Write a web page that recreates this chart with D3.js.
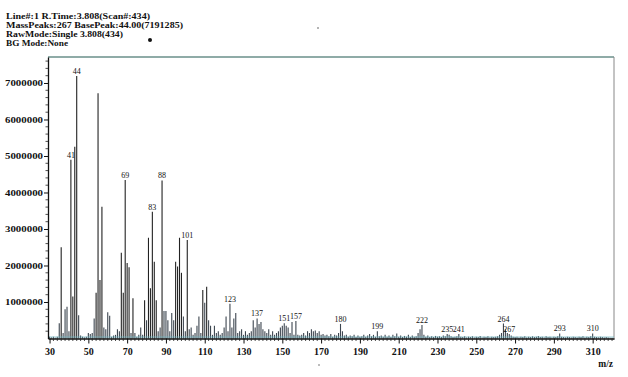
<!DOCTYPE html>
<html><head><meta charset="utf-8">
<script src="https://cdn.jsdelivr.net/npm/d3@7"></script>
<style>
html,body{margin:0;padding:0;background:#fff;}
svg{display:block;}
text{font-family:"Liberation Serif","DejaVu Serif",serif;fill:#111;}
</style></head><body>
<svg id="c" width="628" height="377"></svg>
<script>
// Header lines
const headerLines = [
  "Line#:1  R.Time:3.808(Scan#:434)",
  "MassPeaks:267  BasePeak:44.00(7191285)",
  "RawMode:Single 3.808(434)",
  "BG Mode:None"
];
// m/z tick labels
const xTickValues = [30,50,70,90,110,130,150,170,190,210,230,250,270,290,310];
// intensity tick labels
const yTickValues = [1000000,2000000,3000000,4000000,5000000,6000000,7000000];
// labelled peaks (m/z)
const labelledPeaks = [41,44,69,83,88,101,123,137,151,157,180,199,222,235,241,264,267,293,310];
// peaks: [m/z, intensity in millions]
const lowMassPeaks = [
 [30,0.05],[31,0.03],[32,0.05],[33,0.02],[34,0.05],[35,0.42],[36,2.5],[37,0.15],[38,0.8],[39,0.87],
 [40,0.2],[41,4.9],[42,1.15],[43,5.25],[44,7.191285],[45,0.64],[46,0.08],[47,0.05],[48,0.03],[49,0.05],
 [50,0.15],[51,0.12],[52,0.15],[53,0.55],[54,1.25],[55,6.72],[56,1.6],[57,3.61],[58,0.3],[59,0.25],
 [60,0.72],[61,0.62],[62,0.05],[63,0.08],[64,0.1],[65,0.25],[66,0.2],[67,2.35],[68,1.25],[69,4.34],
 [70,2.07],[71,1.95],[72,0.15],[73,1.1],[74,0.15],[75,0.05],[76,0.1],[77,0.3],[78,0.1],[79,1.05],
 [80,0.5],[81,2.76],[82,1.38],[83,3.47],[84,2.1],[85,1.05],[86,0.2],[87,0.3],[88,4.33],[89,0.75],
 [90,0.75],[91,0.5],[92,0.2],[93,0.7],[94,0.5],[95,2.1],[96,1.97],[97,2.76],[98,1.8],[99,0.6],
 [100,0.2],[101,2.7],[102,0.25],[103,0.3],[104,0.1],[105,0.15],[106,0.35],[107,0.6],[108,0.15],[109,1.33],
 [110,0.98],[111,1.42],[112,0.5],[113,0.35],[114,0.1],[115,0.35],[116,0.15],[117,0.2],[118,0.1],[119,0.15],
 [120,0.3],[121,0.6],[122,0.2],[123,0.95],[124,0.3],[125,0.55]
];
const midMassPeaks = [
 [126,0.7],[127,0.15],[128,0.2],[129,0.25],[130,0.1],[131,0.2],[132,0.1],[133,0.15],[134,0.2],[135,0.5],
 [136,0.3],[137,0.55],[138,0.4],[139,0.45],[140,0.25],[141,0.2],[142,0.15],[143,0.25],[144,0.1],[145,0.2],
 [146,0.1],[147,0.15],[148,0.2],[149,0.3],[150,0.35],[151,0.42],[152,0.35],[153,0.3],[154,0.15],[155,0.45],
 [156,0.1],[157,0.48],[158,0.1],[159,0.08],[160,0.1],[161,0.15],[162,0.08],[163,0.2],[164,0.15],[165,0.25],
 [166,0.2],[167,0.22],[168,0.15],[169,0.2],[170,0.1],[171,0.12],[172,0.08],[173,0.1],[174,0.06],[175,0.12],
 [176,0.05],[177,0.1],[178,0.08],[179,0.15],[180,0.4],[181,0.2],[182,0.08],[183,0.1],[184,0.05],[185,0.08],
 [186,0.06],[187,0.1],[188,0.04],[189,0.08],[190,0.05],[191,0.06],[192,0.1],[193,0.05],[194,0.08],[195,0.12],
 [196,0.06],[197,0.1],[198,0.05],[199,0.2],[200,0.06],[201,0.08],[202,0.05],[203,0.1],[204,0.05],[205,0.08],
 [206,0.04],[207,0.1],[208,0.06],[209,0.14],[210,0.05],[211,0.08],[212,0.04],[213,0.07],[214,0.05],[215,0.1],
 [216,0.04],[217,0.08],[218,0.05],[219,0.06],[220,0.15],[221,0.25],[222,0.37],[223,0.1],[224,0.05],[225,0.08]
];
const highMassPeaks = [
 [226,0.04],[227,0.06],[228,0.04],[229,0.07],[230,0.05],[231,0.06],[232,0.04],[233,0.08],[234,0.06],[235,0.12],
 [236,0.1],[237,0.06],[238,0.04],[239,0.05],[240,0.06],[241,0.12],[242,0.05],[243,0.04],[244,0.06],[245,0.03],
 [246,0.05],[247,0.04],[248,0.06],[249,0.03],[250,0.05],[251,0.04],[252,0.07],[253,0.03],[254,0.05],[255,0.04],
 [256,0.06],[257,0.03],[258,0.05],[259,0.04],[260,0.05],[261,0.06],[262,0.1],[263,0.15],[264,0.41],[265,0.25],
 [266,0.15],[267,0.12],[268,0.08],[269,0.05],[270,0.04],[271,0.05],[272,0.03],[273,0.05],[274,0.04],[275,0.06],
 [276,0.03],[277,0.05],[278,0.04],[279,0.06],[280,0.04],[281,0.05],[282,0.07],[283,0.04],[284,0.05],[285,0.03],
 [286,0.06],[287,0.04],[288,0.05],[289,0.03],[290,0.05],[291,0.04],[292,0.06],[293,0.14],[294,0.05],[295,0.04],
 [296,0.03],[297,0.05],[298,0.04],[299,0.03],[300,0.05],[301,0.04],[302,0.03],[303,0.05],[304,0.04],[305,0.06],
 [306,0.03],[307,0.05],[308,0.04],[309,0.06],[310,0.14],[311,0.05],[312,0.04],[313,0.03],[314,0.05],[315,0.04],
 [316,0.03],[317,0.04],[318,0.03],[319,0.02],[320,0.02]
];

const peaks = lowMassPeaks.concat(midMassPeaks, highMassPeaks)
  .map(([m, v]) => ({mz: m, value: v * 1e6}));

const svg = d3.select("#c");
const L = 48, R = 614, T = 57, B = 338.5;
const x = d3.scaleLinear().domain([29.2, 321]).range([L, R]);
const y = d3.scaleLinear().domain([0, 7712000]).range([B, T]);

// header (widths matched to the reference via textLength)
const headerWidths = [144, 177, 117, 62];
svg.append("g").selectAll("text").data(headerLines).join("text")
  .attr("x", 6).attr("y", (d, i) => 19 + i * 9)
  .attr("font-size", 8).attr("font-weight", "bold")
  .attr("textLength", (d, i) => headerWidths[i]).attr("lengthAdjust", "spacingAndGlyphs")
  .text(d => d);
svg.append("circle").attr("cx", 150).attr("cy", 40).attr("r", 2).attr("fill", "#111");
svg.append("circle").attr("cx", 318).attr("cy", 28).attr("r", 0.8).attr("fill", "#555");
svg.append("circle").attr("cx", 319).attr("cy", 365).attr("r", 0.8).attr("fill", "#666");

// frame
svg.append("line").attr("x1", L).attr("x2", R).attr("y1", T).attr("y2", T)
  .attr("stroke", "#6a8f8a").attr("stroke-width", 1.3);
svg.append("line").attr("x1", R).attr("x2", R).attr("y1", T).attr("y2", B + 1)
  .attr("stroke", "#888").attr("stroke-width", 1);

// bars
svg.append("g").selectAll("line").data(peaks).join("line")
  .attr("x1", d => x(d.mz)).attr("x2", d => x(d.mz))
  .attr("y1", y(0)).attr("y2", d => y(d.value))
  .attr("stroke", d => d.value > 1e6 ? "#222" : "#3d4650")
  .attr("stroke-width", 1.1);

// baseline noise tint
svg.append("line").attr("x1", L).attr("x2", R).attr("y1", B - 1.5).attr("y2", B - 1.5)
  .attr("stroke", "#6fb8c4").attr("stroke-width", 1).attr("opacity", 0.7);

// peak labels
const byMz = new Map(peaks.map(p => [p.mz, p]));
svg.append("g").selectAll("text").data(labelledPeaks).join("text")
  .attr("x", d => x(d)).attr("y", d => y(byMz.get(d).value) - 2)
  .attr("text-anchor", "middle").attr("font-size", 8)
  .text(d => d);

// x axis
const xAxis = d3.axisBottom(x).tickValues(xTickValues).tickSize(5).tickSizeOuter(0).tickPadding(4);
const gx = svg.append("g").attr("transform", `translate(0,${B})`).call(xAxis);
gx.select(".domain").attr("stroke", "#111").attr("stroke-width", 1.3);
gx.selectAll(".tick line").attr("stroke", "#111");
gx.selectAll(".tick text").attr("font-size", 10).attr("font-weight", "bold")
  .attr("font-family", "Liberation Serif, serif").attr("fill", "#111");
const xMinor = d3.range(30, 321, 2).filter(v => (v - 30) % 20 !== 0);
svg.append("g").selectAll("line").data(xMinor).join("line")
  .attr("x1", d => x(d)).attr("x2", d => x(d)).attr("y1", B).attr("y2", B + 2.5)
  .attr("stroke", "#222").attr("stroke-width", 0.8);

// y axis
const yAxis = d3.axisLeft(y).tickValues(yTickValues).tickSize(4).tickSizeOuter(0).tickPadding(1)
  .tickFormat(d3.format("d"));
const gy = svg.append("g").attr("transform", `translate(${L},0)`).call(yAxis);
gy.select(".domain").attr("stroke", "#111").attr("stroke-width", 1.3);
gy.selectAll(".tick line").attr("stroke", "#111");
gy.selectAll(".tick text").attr("font-size", 9).attr("font-weight", "bold")
  .attr("font-family", "Liberation Serif, serif").attr("fill", "#111")
  .attr("textLength", 38).attr("lengthAdjust", "spacingAndGlyphs");
const yMinor = d3.range(200000, 7700000, 200000).filter(v => v % 1000000 !== 0);
svg.append("g").selectAll("line").data(yMinor).join("line")
  .attr("x1", L - 2.5).attr("x2", L).attr("y1", d => y(d)).attr("y2", d => y(d))
  .attr("stroke", "#222").attr("stroke-width", 0.8);

// m/z label
svg.append("text").attr("x", 613).attr("y", 367).attr("text-anchor", "end")
  .attr("font-size", 9.5).attr("font-weight", "bold").text("m/z");
</script>
</body></html>
